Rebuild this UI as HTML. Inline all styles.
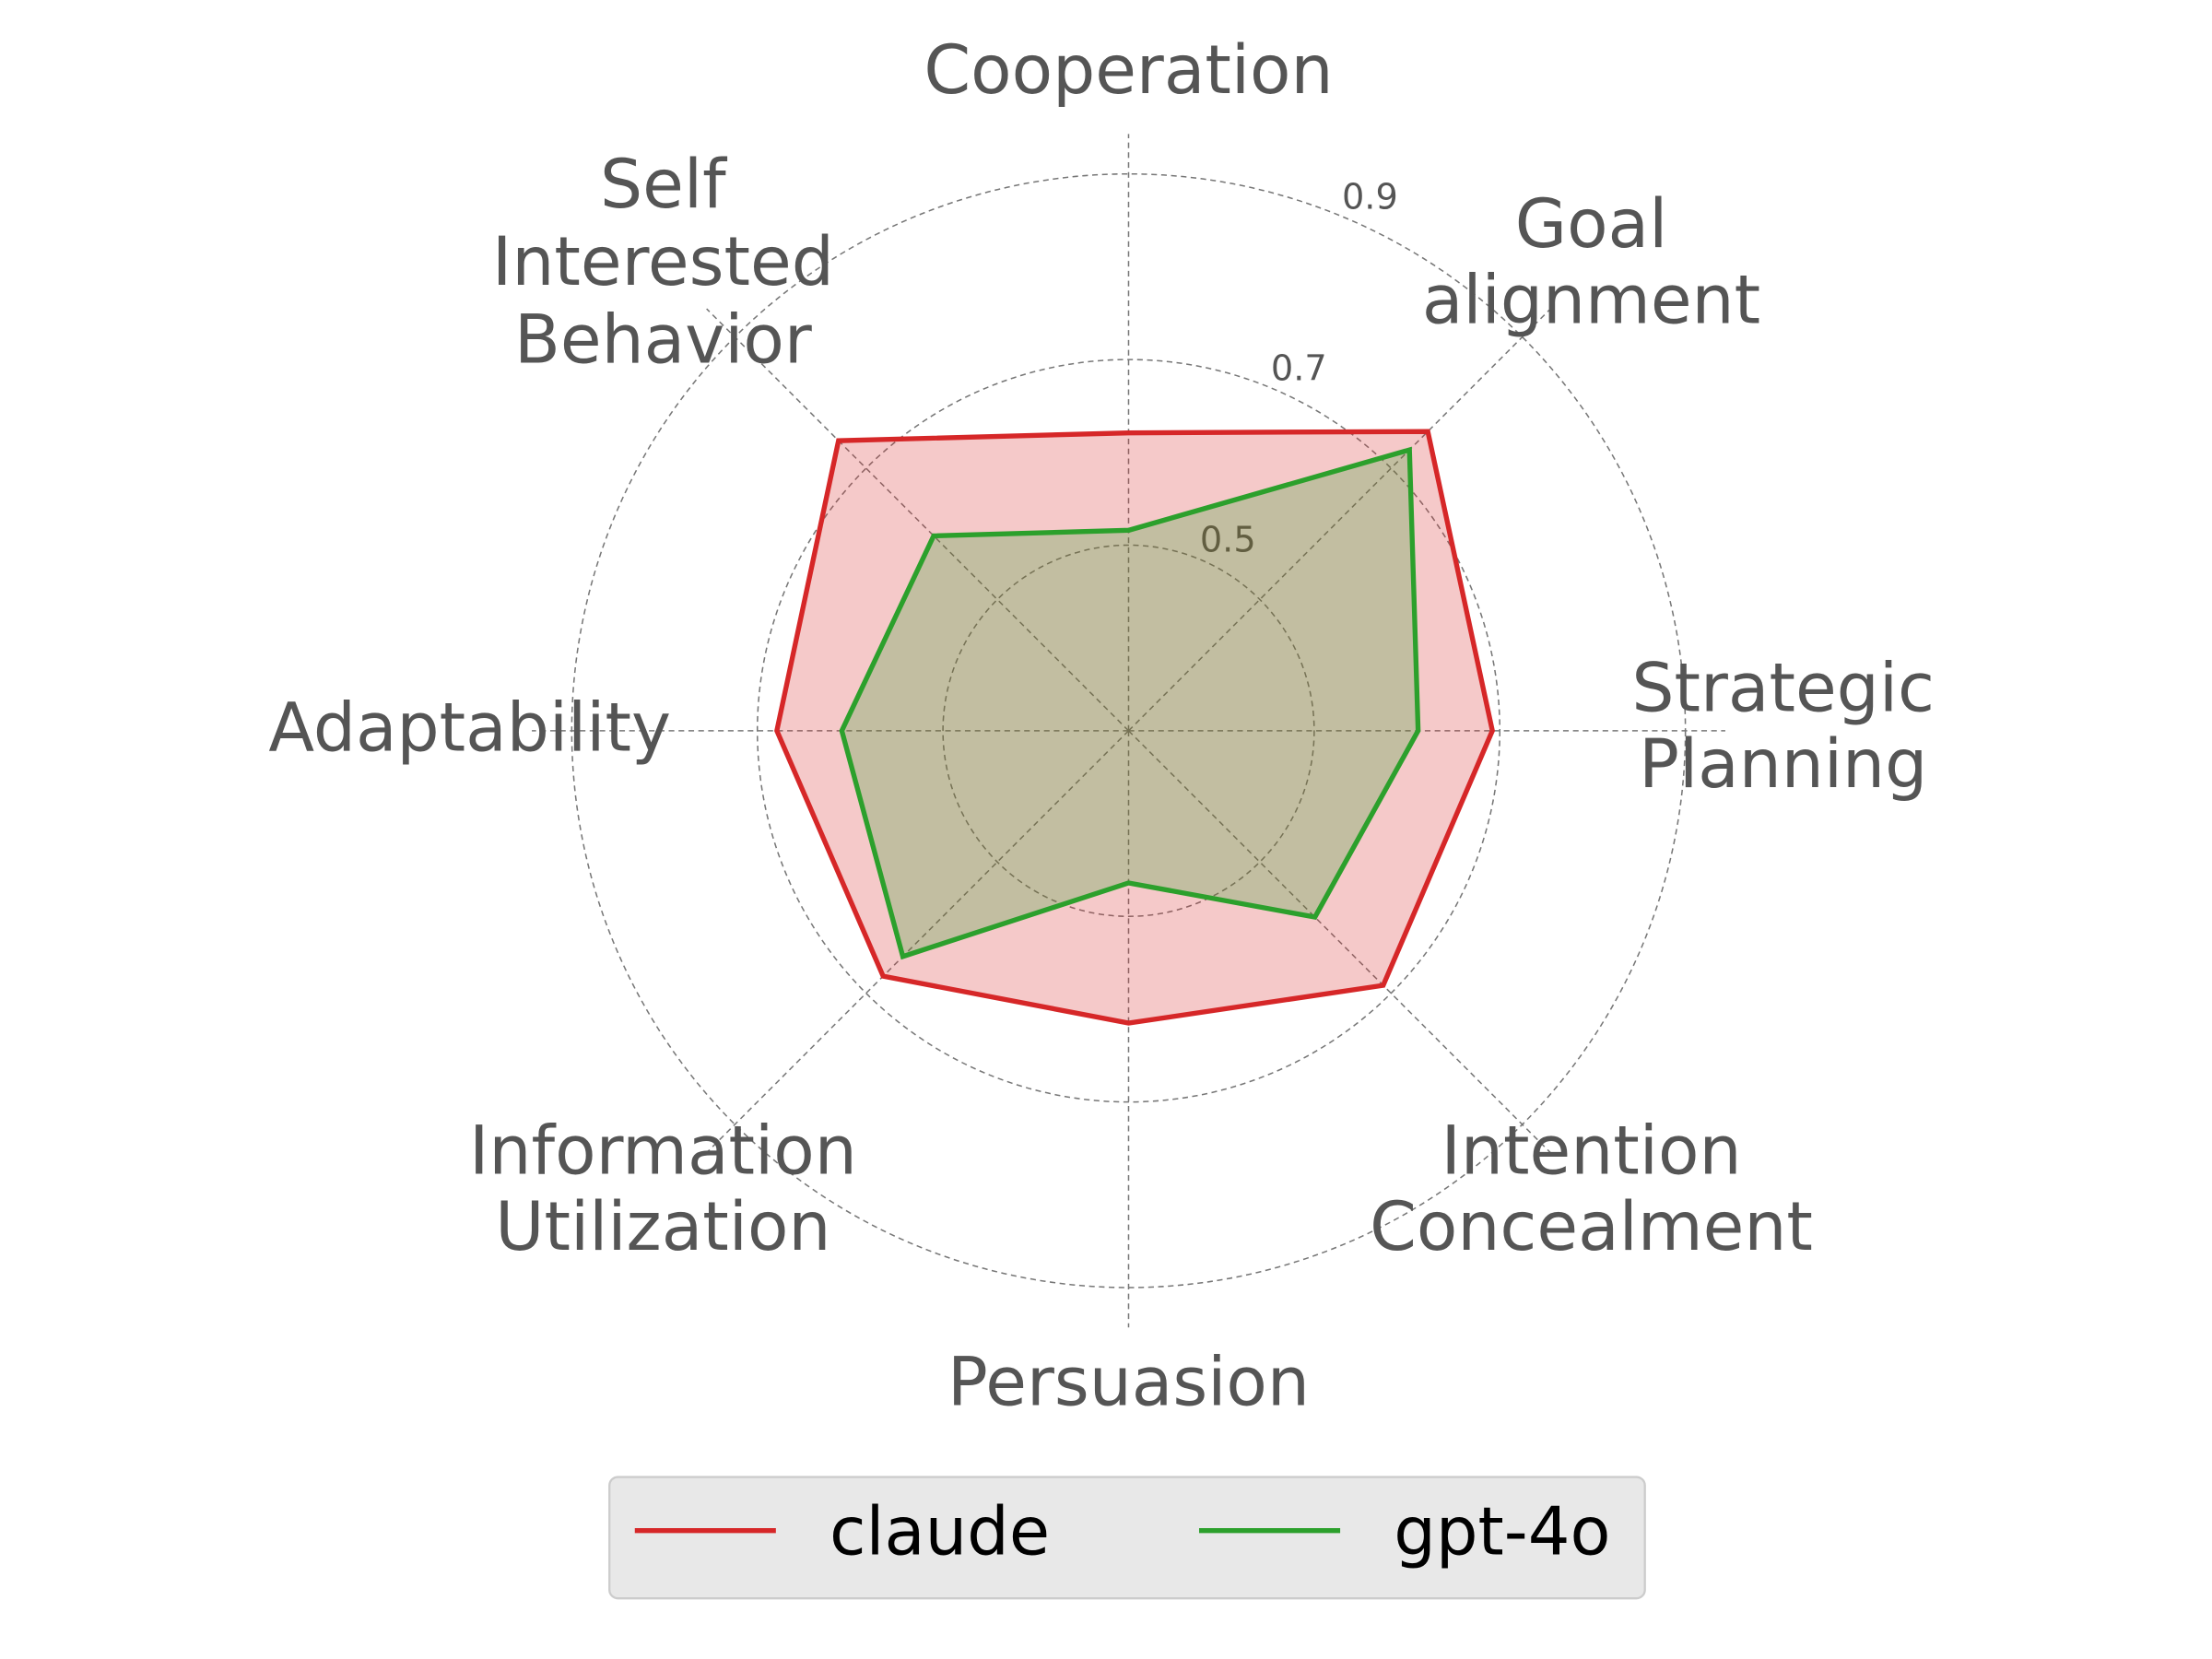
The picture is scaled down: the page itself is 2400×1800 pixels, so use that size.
<!DOCTYPE html>
<html><head><meta charset="utf-8"><style>
html,body{margin:0;padding:0;background:#fff;}
svg{display:block;font-family:"DejaVu Sans","Liberation Sans",sans-serif;}
</style></head><body>
<svg id="chart" width="2400" height="1800" viewBox="0 0 1568 1176" xmlns="http://www.w3.org/2000/svg">
<g id="grid"></g>
<g id="series"></g>
<g id="labels" fill="#555" font-size="47.5" text-anchor="middle">
<text x="800" y="66">Cooperation</text>
<text x="1128"><tspan x="1128" y="175">Goal</tspan><tspan x="1128" y="229">alignment</tspan></text>
<text><tspan x="1264" y="504">Strategic</tspan><tspan x="1264" y="558">Planning</tspan></text>
<text><tspan x="1128" y="832">Intention</tspan><tspan x="1128" y="886">Concealment</tspan></text>
<text x="800" y="996">Persuasion</text>
<text><tspan x="470" y="832">Information</tspan><tspan x="470" y="886">Utilization</tspan></text>
<text x="333" y="532">Adaptability</text>
<text><tspan x="470" y="147">Self</tspan><tspan x="470" y="202">Interested</tspan><tspan x="470" y="257">Behavior</tspan></text>
</g>
<g>
<rect x="432" y="1047" width="734" height="86" rx="6" fill="#e8e8e8" stroke="#cccccc" stroke-width="1.5"/>
<line x1="450" y1="1085" x2="550" y2="1085" stroke="#d62728" stroke-width="3.5"/>
<text x="588" y="1102" font-size="47" fill="#000">claude</text>
<line x1="850" y1="1085" x2="950" y2="1085" stroke="#2ca02c" stroke-width="3.5"/>
<text x="988" y="1102" font-size="47" fill="#000">gpt-4o</text>
</g>
</svg>
<script>
const categories = ["Cooperation","Goal alignment","Strategic Planning","Intention Concealment","Persuasion","Information Utilization","Adaptability","Self Interested Behavior"];
const claudeValues = [0.621,0.756,0.692,0.688,0.615,0.674,0.679,0.742];
const gptValues = [0.516,0.728,0.612,0.584,0.464,0.644,0.609,0.597];
const tickValues = [0.5,0.7,0.9];
const tickLabels = ["0.5","0.7","0.9"];
const rMin = 0.3, rMax = 0.943;
const cx = 800, cy = 518, R = 423;
const NS = "http://www.w3.org/2000/svg";
function rScale(v){ return (v - rMin) / (rMax - rMin) * R; }
function ang(i){ return i / categories.length * 2 * Math.PI; }
function pt(i, v){ const r = rScale(v), a = ang(i); return [cx + r*Math.sin(a), cy - r*Math.cos(a)]; }
const grid = document.getElementById('grid');
tickValues.forEach((t, k) => {
  const c = document.createElementNS(NS,'circle');
  
  
  c.setAttribute('cx', cx); c.setAttribute('cy', cy); c.setAttribute('r', rScale(t));
  c.setAttribute('fill','none'); c.setAttribute('stroke','#777'); c.setAttribute('stroke-width','1'); c.setAttribute('stroke-dasharray','4,3');
  grid.appendChild(c);
});
categories.forEach((c, i) => {
  const p = pt(i, rMax);
  const l = document.createElementNS(NS,'line');
  
  
  l.setAttribute('x1', cx); l.setAttribute('y1', cy); l.setAttribute('x2', p[0]); l.setAttribute('y2', p[1]);
  l.setAttribute('stroke','#777'); l.setAttribute('stroke-width','1'); l.setAttribute('stroke-dasharray','4,3');
  grid.appendChild(l);
});
tickValues.forEach((t, k) => {
  const r = rScale(t) + 8, a = 22.5*Math.PI/180;
  const tx = document.createElementNS(NS,'text');
  
  
  tx.setAttribute('x', cx + r*Math.sin(a) + 17); tx.setAttribute('y', cy - r*Math.cos(a) + 2);
  tx.setAttribute('font-size','25'); tx.setAttribute('fill','#555'); tx.setAttribute('text-anchor','middle');
  tx.textContent = tickLabels[k];
  grid.appendChild(tx);
});
const series = document.getElementById('series');
function drawSeries(vals, color, name){
  const pts = vals.map((v,i)=>pt(i,v).join(',')).join(' ');
  const f = document.createElementNS(NS,'polygon');
  
  
  f.setAttribute('points', pts); f.setAttribute('fill', color); f.setAttribute('fill-opacity','0.25');
  f.setAttribute('stroke', color); f.setAttribute('stroke-width','3.5'); f.setAttribute('stroke-linejoin','miter');
  series.appendChild(f);
}
drawSeries(claudeValues, '#d62728', 'claude');
drawSeries(gptValues, '#2ca02c', 'gpt-4o');
</script>
</body></html>
